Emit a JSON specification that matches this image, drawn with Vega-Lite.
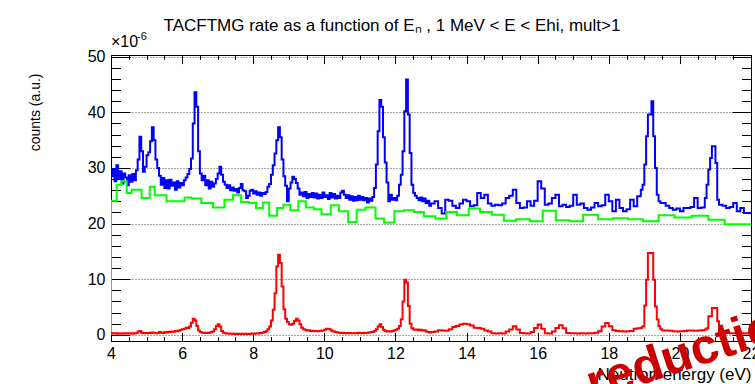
{
  "$schema": "https://vega.github.io/schema/vega-lite/v6.json",
  "width": 640,
  "height": 286,
  "autosize": {"type": "none"},
  "padding": {"left": 111, "top": 55, "right": 4, "bottom": 43},
  "background": "white",
  "config": {
    "view": {"stroke": "black", "strokeWidth": 1},
    "font": "Liberation Sans",
    "axis": {"domain": false, "grid": false, "labels": false, "ticks": false, "tickColor": "black", "labelColor": "black", "titleColor": "black", "labelFont": "Liberation Sans", "titleFont": "Liberation Sans", "titleFontWeight": "normal"}
  },
  "title": {
    "text": "TACFTMG rate as a function of Eₙ , 1 MeV < E < Ehi, mult>1",
    "font": "Liberation Sans",
    "fontSize": 17,
    "fontWeight": "normal",
    "color": "black",
    "anchor": "middle",
    "frame": "group",
    "dx": -39,
    "dy": 26,
    "offset": 9,
    "baseline": "alphabetic"
  },
  "datasets": {
    "hist": [
      {"e":4.00,"b":28.5,"r":0.3},{"e":4.05,"b":29.8,"r":0.25},{"e":4.10,"b":27.6,"r":0.3},{"e":4.15,"b":30.5,"r":0.2},
      {"e":4.20,"b":28.1,"r":0.3},{"e":4.25,"b":29.4,"r":0.25},{"e":4.30,"b":27.2,"r":0.2},{"e":4.35,"b":29.0,"r":0.3},
      {"e":4.40,"b":28.3,"r":0.25},{"e":4.45,"b":26.9,"r":0.3},{"e":4.50,"b":28.7,"r":0.25},{"e":4.55,"b":27.5,"r":0.3},
      {"e":4.60,"b":28.9,"r":0.2},{"e":4.65,"b":27.8,"r":0.3},{"e":4.70,"b":29.6,"r":0.35},{"e":4.75,"b":31.5,"r":0.6},
      {"e":4.80,"b":35.6,"r":0.7},{"e":4.85,"b":33.0,"r":0.4},{"e":4.90,"b":29.3,"r":0.3},{"e":4.95,"b":30.2,"r":0.35},
      {"e":5.00,"b":32.3,"r":0.3},{"e":5.05,"b":32.8,"r":0.4},{"e":5.10,"b":34.8,"r":0.35},{"e":5.15,"b":37.3,"r":0.45},
      {"e":5.20,"b":35.0,"r":0.4},{"e":5.25,"b":31.5,"r":0.3},{"e":5.30,"b":30.0,"r":0.35},{"e":5.35,"b":28.6,"r":0.5},
      {"e":5.40,"b":27.0,"r":0.4},{"e":5.45,"b":28.2,"r":0.35},{"e":5.50,"b":26.4,"r":0.5},{"e":5.55,"b":27.8,"r":0.45},
      {"e":5.60,"b":26.3,"r":0.55},{"e":5.65,"b":27.9,"r":0.5},{"e":5.70,"b":26.8,"r":0.6},{"e":5.75,"b":27.4,"r":0.55},
      {"e":5.80,"b":26.1,"r":0.7},{"e":5.85,"b":27.6,"r":0.65},{"e":5.90,"b":26.5,"r":0.8},{"e":5.95,"b":27.3,"r":0.9},
      {"e":6.00,"b":26.9,"r":1.0},{"e":6.05,"b":27.8,"r":1.1},{"e":6.10,"b":28.3,"r":1.3},{"e":6.15,"b":28.9,"r":1.2},
      {"e":6.20,"b":29.8,"r":1.5},{"e":6.25,"b":31.7,"r":2.2},{"e":6.30,"b":38.0,"r":2.9},{"e":6.35,"b":43.6,"r":2.6},
      {"e":6.40,"b":41.0,"r":1.6},{"e":6.45,"b":33.0,"r":0.8},{"e":6.50,"b":29.0,"r":0.5},{"e":6.55,"b":27.8,"r":0.4},
      {"e":6.60,"b":28.6,"r":0.35},{"e":6.65,"b":26.9,"r":0.4},{"e":6.70,"b":27.8,"r":0.35},{"e":6.75,"b":26.3,"r":0.4},
      {"e":6.80,"b":27.5,"r":0.5},{"e":6.85,"b":26.6,"r":0.6},{"e":6.90,"b":27.2,"r":1.0},{"e":6.95,"b":28.0,"r":1.6},
      {"e":7.00,"b":29.0,"r":1.9},{"e":7.05,"b":30.2,"r":1.5},{"e":7.10,"b":28.8,"r":0.7},{"e":7.15,"b":27.5,"r":0.4},
      {"e":7.20,"b":27.0,"r":0.3},{"e":7.25,"b":26.4,"r":0.25},{"e":7.30,"b":26.9,"r":0.2},{"e":7.35,"b":26.0,"r":0.25},
      {"e":7.40,"b":26.5,"r":0.2},{"e":7.45,"b":25.9,"r":0.15},{"e":7.50,"b":26.2,"r":0.2},{"e":7.55,"b":25.6,"r":0.15},
      {"e":7.60,"b":26.4,"r":0.2},{"e":7.65,"b":27.1,"r":0.15},{"e":7.70,"b":26.0,"r":0.2},{"e":7.75,"b":25.8,"r":0.15},
      {"e":7.80,"b":24.6,"r":0.2},{"e":7.85,"b":25.0,"r":0.15},{"e":7.90,"b":25.9,"r":0.2},{"e":7.95,"b":26.1,"r":0.25},
      {"e":8.00,"b":25.4,"r":0.2},{"e":8.05,"b":25.8,"r":0.25},{"e":8.10,"b":25.2,"r":0.3},{"e":8.15,"b":25.6,"r":0.25},
      {"e":8.20,"b":25.0,"r":0.35},{"e":8.25,"b":25.5,"r":0.4},{"e":8.30,"b":25.3,"r":0.5},{"e":8.35,"b":25.7,"r":0.65},
      {"e":8.40,"b":26.6,"r":1.0},{"e":8.45,"b":27.1,"r":1.5},{"e":8.50,"b":28.8,"r":2.6},{"e":8.55,"b":30.5,"r":4.5},
      {"e":8.60,"b":32.6,"r":7.5},{"e":8.65,"b":35.0,"r":12.3},{"e":8.70,"b":37.3,"r":14.4},{"e":8.75,"b":35.5,"r":12.9},
      {"e":8.80,"b":31.5,"r":8.7},{"e":8.85,"b":28.5,"r":4.6},{"e":8.90,"b":26.8,"r":2.9},{"e":8.95,"b":24.0,"r":2.3},
      {"e":9.00,"b":26.3,"r":1.9},{"e":9.05,"b":27.4,"r":1.8},{"e":9.10,"b":28.4,"r":2.0},{"e":9.15,"b":28.0,"r":2.5},
      {"e":9.20,"b":27.3,"r":2.9},{"e":9.25,"b":26.3,"r":2.6},{"e":9.30,"b":25.2,"r":1.9},{"e":9.35,"b":25.6,"r":1.3},
      {"e":9.40,"b":24.9,"r":1.0},{"e":9.45,"b":25.7,"r":0.9},{"e":9.50,"b":24.6,"r":0.8},{"e":9.55,"b":25.3,"r":0.85},
      {"e":9.60,"b":24.8,"r":0.7},{"e":9.65,"b":25.5,"r":0.75},{"e":9.70,"b":24.7,"r":0.65},{"e":9.75,"b":25.4,"r":0.7},
      {"e":9.80,"b":24.5,"r":0.65},{"e":9.85,"b":25.2,"r":0.7},{"e":9.90,"b":24.6,"r":0.75},{"e":9.95,"b":25.6,"r":0.8},
      {"e":10.00,"b":24.8,"r":0.9},{"e":10.05,"b":25.1,"r":1.1},{"e":10.10,"b":24.4,"r":1.1},{"e":10.15,"b":25.5,"r":0.95},
      {"e":10.20,"b":24.7,"r":0.7},{"e":10.25,"b":25.3,"r":0.6},{"e":10.30,"b":24.5,"r":0.5},{"e":10.35,"b":25.0,"r":0.45},
      {"e":10.40,"b":24.6,"r":0.4},{"e":10.45,"b":25.6,"r":0.35},{"e":10.50,"b":25.9,"r":0.4},{"e":10.55,"b":25.2,"r":0.3},
      {"e":10.60,"b":24.6,"r":0.35},{"e":10.65,"b":25.1,"r":0.3},{"e":10.70,"b":24.3,"r":0.35},{"e":10.75,"b":24.9,"r":0.3},
      {"e":10.80,"b":24.1,"r":0.3},{"e":10.85,"b":24.8,"r":0.35},{"e":10.90,"b":24.2,"r":0.3},{"e":10.95,"b":25.0,"r":0.4},
      {"e":11.00,"b":24.3,"r":0.35},{"e":11.05,"b":24.8,"r":0.3},{"e":11.10,"b":24.2,"r":0.4},{"e":11.15,"b":24.6,"r":0.35},
      {"e":11.20,"b":23.8,"r":0.4},{"e":11.25,"b":24.5,"r":0.45},{"e":11.30,"b":24.1,"r":0.5},{"e":11.35,"b":24.8,"r":0.55},
      {"e":11.40,"b":26.4,"r":0.7},{"e":11.45,"b":30.6,"r":1.0},{"e":11.50,"b":36.6,"r":1.5},{"e":11.55,"b":42.2,"r":1.9},
      {"e":11.60,"b":41.0,"r":1.4},{"e":11.65,"b":35.5,"r":0.9},{"e":11.70,"b":31.0,"r":0.7},{"e":11.75,"b":27.4,"r":0.6},
      {"e":11.80,"b":24.0,"r":0.65},{"e":11.85,"b":25.2,"r":0.6},{"e":11.90,"b":24.3,"r":0.7},{"e":11.95,"b":24.6,"r":0.8},
      {"e":12.00,"b":24.2,"r":0.9},{"e":12.05,"b":25.0,"r":1.1},{"e":12.10,"b":27.0,"r":1.6},{"e":12.15,"b":28.8,"r":2.8},
      {"e":12.20,"b":33.0,"r":6.0},{"e":12.25,"b":40.2,"r":9.9},{"e":12.30,"b":45.9,"r":9.4},{"e":12.35,"b":39.6,"r":5.2},
      {"e":12.40,"b":32.7,"r":2.0},{"e":12.45,"b":27.0,"r":1.2},{"e":12.50,"b":25.5,"r":0.95},{"e":12.55,"b":25.0,"r":0.9},
      {"e":12.60,"b":24.6,"r":0.95},{"e":12.65,"b":24.2,"r":0.85},{"e":12.70,"b":24.7,"r":0.9},{"e":12.75,"b":24.0,"r":0.8},
      {"e":12.80,"b":24.5,"r":0.85},{"e":12.85,"b":23.7,"r":0.6},{"e":12.90,"b":24.1,"r":0.5},{"e":12.95,"b":23.2,"r":0.45},
      {"e":13.0,"b":23.6,"r":0.5},{"e":13.1,"b":24.0,"r":0.6},{"e":13.2,"b":22.8,"r":0.85},{"e":13.3,"b":21.8,"r":0.8},
      {"e":13.4,"b":24.3,"r":0.75},{"e":13.5,"b":24.1,"r":1.0},{"e":13.6,"b":23.2,"r":1.4},{"e":13.7,"b":22.8,"r":1.6},
      {"e":13.8,"b":23.6,"r":1.85},{"e":13.9,"b":24.3,"r":2.0},{"e":14.0,"b":24.0,"r":1.9},{"e":14.1,"b":23.1,"r":1.7},
      {"e":14.2,"b":23.3,"r":1.3},{"e":14.3,"b":25.5,"r":1.25},{"e":14.4,"b":24.6,"r":1.1},{"e":14.5,"b":25.2,"r":0.8},
      {"e":14.6,"b":23.6,"r":0.6},{"e":14.7,"b":23.2,"r":0.3},{"e":14.8,"b":23.4,"r":0.25},{"e":14.9,"b":23.3,"r":0.3},
      {"e":15.0,"b":23.6,"r":0.25},{"e":15.1,"b":24.6,"r":0.6},{"e":15.2,"b":25.0,"r":0.95},{"e":15.3,"b":26.1,"r":1.55},
      {"e":15.4,"b":23.7,"r":0.95},{"e":15.5,"b":22.8,"r":0.35},{"e":15.6,"b":22.9,"r":0.3},{"e":15.7,"b":24.0,"r":0.25},
      {"e":15.8,"b":23.2,"r":0.5},{"e":15.9,"b":24.1,"r":1.25},{"e":16.0,"b":27.6,"r":1.85},{"e":16.1,"b":26.3,"r":1.1},
      {"e":16.2,"b":23.4,"r":0.3},{"e":16.3,"b":23.6,"r":0.25},{"e":16.4,"b":24.6,"r":0.6},{"e":16.5,"b":25.2,"r":1.25},
      {"e":16.6,"b":23.1,"r":1.75},{"e":16.7,"b":23.4,"r":1.2},{"e":16.8,"b":23.0,"r":0.35},{"e":16.9,"b":23.2,"r":0.3},
      {"e":17.0,"b":25.2,"r":0.3},{"e":17.1,"b":23.4,"r":0.25},{"e":17.2,"b":23.6,"r":0.3},{"e":17.3,"b":22.8,"r":0.25},
      {"e":17.4,"b":22.5,"r":0.3},{"e":17.5,"b":22.9,"r":0.3},{"e":17.6,"b":23.7,"r":0.4},{"e":17.7,"b":23.1,"r":0.65},
      {"e":17.8,"b":23.3,"r":1.5},{"e":17.9,"b":25.2,"r":2.15},{"e":18.0,"b":24.0,"r":1.55},{"e":18.1,"b":22.2,"r":0.85},
      {"e":18.2,"b":24.3,"r":0.7},{"e":18.3,"b":22.8,"r":0.65},{"e":18.4,"b":22.2,"r":0.6},{"e":18.5,"b":22.6,"r":0.65},
      {"e":18.6,"b":24.3,"r":0.7},{"e":18.7,"b":23.1,"r":1.1},{"e":18.8,"b":24.9,"r":1.2},
      {"e":18.90,"b":26.1,"r":1.3},{"e":18.95,"b":27.0,"r":1.55},{"e":19.00,"b":30.6,"r":5.3},{"e":19.05,"b":35.7,"r":9.9},
      {"e":19.10,"b":39.6,"r":14.7},{"e":19.15,"b":39.6,"r":14.7},{"e":19.20,"b":42.0,"r":14.7},{"e":19.25,"b":35.7,"r":9.9},
      {"e":19.30,"b":30.0,"r":5.1},{"e":19.35,"b":25.2,"r":2.75},{"e":19.40,"b":24.0,"r":1.55},{"e":19.45,"b":23.7,"r":1.0},
      {"e":19.5,"b":23.7,"r":0.8},{"e":19.6,"b":23.2,"r":0.8},{"e":19.7,"b":22.8,"r":0.75},{"e":19.8,"b":22.5,"r":0.65},
      {"e":19.9,"b":22.7,"r":0.6},{"e":20.0,"b":22.2,"r":0.65},{"e":20.1,"b":22.8,"r":0.7},{"e":20.2,"b":22.8,"r":0.8},
      {"e":20.3,"b":23.0,"r":0.8},{"e":20.4,"b":24.6,"r":0.75},{"e":20.5,"b":22.8,"r":0.8},{"e":20.6,"b":22.9,"r":0.85},
      {"e":20.70,"b":24.6,"r":0.95},{"e":20.75,"b":27.0,"r":1.2},{"e":20.80,"b":29.7,"r":3.35},{"e":20.85,"b":31.8,"r":3.35},
      {"e":20.90,"b":33.9,"r":4.85},{"e":20.95,"b":33.9,"r":4.85},{"e":21.00,"b":30.9,"r":4.85},{"e":21.05,"b":24.3,"r":2.45},
      {"e":21.1,"b":23.4,"r":0.5},{"e":21.2,"b":23.2,"r":0.35},{"e":21.3,"b":22.8,"r":0.35},{"e":21.4,"b":23.0,"r":0.3},
      {"e":21.5,"b":23.7,"r":0.3},{"e":21.6,"b":22.2,"r":0.25},{"e":21.7,"b":22.8,"r":0.3},{"e":21.8,"b":21.9,"r":0.25},
      {"e":21.9,"b":21.9,"r":0.3},{"e":22.0,"b":21.9,"r":0.3}
    ],
    "coarse": [
      {"e":4.0,"g":0},{"e":4.0,"g":24.1},{"e":4.16,"g":27.0},{"e":4.30,"g":27.6},{"e":4.44,"g":25.5},{"e":4.58,"g":26.1},
      {"e":4.86,"g":24.6},{"e":5.09,"g":26.6},{"e":5.23,"g":25.1},{"e":5.56,"g":24.0},{"e":6.07,"g":24.7},{"e":6.26,"g":24.5},
      {"e":6.54,"g":23.7},{"e":6.87,"g":22.9},{"e":7.19,"g":24.3},{"e":7.43,"g":25.1},{"e":7.66,"g":23.9},{"e":7.89,"g":23.7},
      {"e":8.08,"g":22.8},{"e":8.27,"g":23.8},{"e":8.45,"g":21.4},{"e":8.67,"g":22.8},{"e":8.85,"g":23.4},{"e":9.04,"g":22.4},
      {"e":9.27,"g":24.0},{"e":9.48,"g":22.9},{"e":9.71,"g":22.6},{"e":9.92,"g":21.7},{"e":10.18,"g":23.3},{"e":10.41,"g":22.2},
      {"e":10.67,"g":20.3},{"e":10.91,"g":22.5},{"e":11.16,"g":22.9},{"e":11.44,"g":20.9},{"e":11.68,"g":20.2},{"e":11.97,"g":22.2},
      {"e":12.24,"g":22.4},{"e":12.52,"g":22.1},{"e":12.80,"g":21.3},{"e":13.12,"g":20.9},{"e":13.43,"g":22.1},{"e":13.73,"g":21.5},
      {"e":14.06,"g":22.7},{"e":14.38,"g":22.1},{"e":14.71,"g":21.6},{"e":15.05,"g":20.5},{"e":15.39,"g":20.8},{"e":15.78,"g":20.4},
      {"e":16.14,"g":22.3},{"e":16.51,"g":20.6},{"e":16.90,"g":20.4},{"e":17.28,"g":21.6},{"e":17.70,"g":20.8},{"e":18.12,"g":20.95},
      {"e":18.54,"g":20.8},{"e":18.96,"g":20.4},{"e":19.40,"g":21.5},{"e":19.85,"g":21.1},{"e":20.33,"g":21.4},{"e":20.80,"g":20.7},
      {"e":21.26,"g":19.9},{"e":22.0,"g":19.9}
    ],
    "one": [{"n": 1}]
  },
  "layer": [
    {
      "data": {"name": "hist"},
      "mark": {"type": "line", "interpolate": "step-after", "color": "#0000ff", "strokeWidth": 2, "clip": true},
      "encoding": {
        "x": {"field": "e", "type": "quantitative",
          "scale": {"domain": [4, 22], "nice": false, "zero": false},
          "axis": {"orient": "bottom", "values": [4, 6, 8, 10, 12, 14, 16, 18, 20, 22], "labels": true, "labelFontSize": 16, "labelPadding": 4, "labelFlush": false, "labelOverlap": false,
            "title": "Neutron energy (eV)", "titleFontSize": 17, "titleAnchor": "end", "titleAlign": "right", "titlePadding": 5}},
        "y": {"field": "b", "type": "quantitative",
          "scale": {"domain": [-1.1, 50.3], "nice": false, "zero": false},
          "axis": {"orient": "left", "values": [0, 10, 20, 30, 40, 50], "labels": true, "labelFontSize": 16, "labelPadding": 6, "labelFlush": false, "labelOverlap": false,
            "grid": true, "gridColor": "#000000", "gridDash": [1, 2], "gridWidth": 1, "gridOpacity": 0.7,
            "title": "counts (a.u.)", "titleFontSize": 14, "titleAnchor": "end", "titleY": 18, "titlePadding": 45}}
      }
    },
    {
      "data": {"name": "coarse"},
      "mark": {"type": "line", "interpolate": "step-after", "color": "#00ff00", "strokeWidth": 2, "clip": true},
      "encoding": {
        "x": {"field": "e", "type": "quantitative", "scale": {"domain": [4, 22], "nice": false, "zero": false},
          "axis": {"orient": "bottom", "values": [4, 6, 8, 10, 12, 14, 16, 18, 20, 22], "ticks": true, "tickSize": -8.6, "title": null}},
        "y": {"field": "g", "type": "quantitative", "scale": {"domain": [-1.1, 50.3], "nice": false, "zero": false},
          "axis": {"orient": "left", "values": [0, 10, 20, 30, 40, 50], "ticks": true, "tickSize": -19, "title": null}}
      }
    },
    {
      "data": {"name": "hist"},
      "mark": {"type": "line", "interpolate": "step-after", "color": "#ff0000", "strokeWidth": 2, "clip": true},
      "encoding": {
        "x": {"field": "e", "type": "quantitative", "scale": {"domain": [4, 22], "nice": false, "zero": false},
          "axis": {"orient": "bottom", "values": [4, 4.5, 5, 5.5, 6, 6.5, 7, 7.5, 8, 8.5, 9, 9.5, 10, 10.5, 11, 11.5, 12, 12.5, 13, 13.5, 14, 14.5, 15, 15.5, 16, 16.5, 17, 17.5, 18, 18.5, 19, 19.5, 20, 20.5, 21, 21.5, 22], "ticks": true, "tickSize": -4.3, "title": null}},
        "y": {"field": "r", "type": "quantitative", "scale": {"domain": [-1.1, 50.3], "nice": false, "zero": false},
          "axis": {"orient": "left", "values": [0, 2, 4, 6, 8, 10, 12, 14, 16, 18, 20, 22, 24, 26, 28, 30, 32, 34, 36, 38, 40, 42, 44, 46, 48, 50], "ticks": true, "tickSize": -9.5, "title": null}}
      }
    },
    {
      "data": {"name": "one"},
      "mark": {"type": "text", "text": "×10", "align": "left", "baseline": "alphabetic", "dy": -8, "fontSize": 16, "font": "Liberation Sans", "color": "black", "clip": false},
      "encoding": {
        "x": {"datum": 4, "type": "quantitative", "scale": {"domain": [4, 22], "nice": false, "zero": false},
          "axis": {"orient": "top", "values": [4, 6, 8, 10, 12, 14, 16, 18, 20, 22], "ticks": true, "tickSize": -8.6, "title": null}},
        "y": {"datum": 50.3, "type": "quantitative", "scale": {"domain": [-1.1, 50.3], "nice": false, "zero": false},
          "axis": {"orient": "right", "values": [0, 10, 20, 30, 40, 50], "ticks": true, "tickSize": -19, "title": null}}
      }
    },
    {
      "data": {"name": "one"},
      "mark": {"type": "text", "text": "-6", "align": "left", "baseline": "alphabetic", "dx": 26, "dy": -15, "fontSize": 11, "font": "Liberation Sans", "color": "black", "clip": false},
      "encoding": {
        "x": {"datum": 4, "type": "quantitative", "scale": {"domain": [4, 22], "nice": false, "zero": false},
          "axis": {"orient": "top", "values": [4, 4.5, 5, 5.5, 6, 6.5, 7, 7.5, 8, 8.5, 9, 9.5, 10, 10.5, 11, 11.5, 12, 12.5, 13, 13.5, 14, 14.5, 15, 15.5, 16, 16.5, 17, 17.5, 18, 18.5, 19, 19.5, 20, 20.5, 21, 21.5, 22], "ticks": true, "tickSize": -4.3, "title": null}},
        "y": {"datum": 50.3, "type": "quantitative", "scale": {"domain": [-1.1, 50.3], "nice": false, "zero": false},
          "axis": {"orient": "right", "values": [0, 2, 4, 6, 8, 10, 12, 14, 16, 18, 20, 22, 24, 26, 28, 30, 32, 34, 36, 38, 40, 42, 44, 46, 48, 50], "ticks": true, "tickSize": -9.5, "title": null}}
      }
    },
    {
      "data": {"name": "one"},
      "mark": {"type": "text", "text": "reduction", "align": "left", "baseline": "alphabetic", "angle": -18, "fontSize": 50, "fontWeight": "bold", "font": "Liberation Sans", "color": "#cc0000", "clip": false},
      "encoding": {
        "x": {"datum": 17.55, "type": "quantitative", "scale": {"domain": [4, 22], "nice": false, "zero": false}, "axis": null},
        "y": {"datum": -11.8, "type": "quantitative", "scale": {"domain": [-1.1, 50.3], "nice": false, "zero": false}, "axis": null}
      }
    }
  ],
  "resolve": {"axis": {"x": "independent", "y": "independent"}}
}
